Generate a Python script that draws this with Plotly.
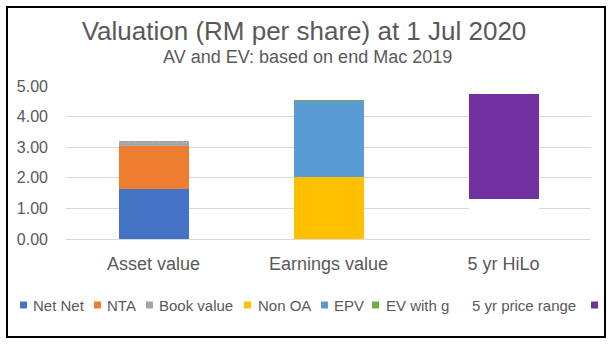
import plotly.graph_objects as go

categories = ["Asset value", "Earnings value", "5 yr HiLo"]

net_net = [1.62, None, None]
nta = [1.42, None, None]
book_value = [0.16, None, None]
non_oa = [None, 2.03, None]
epv = [None, 2.48, None]
ev_with_g = [None, 0.03, None]
price_low = [None, None, 1.31]
price_range = [None, None, 3.43]

y_ticks = [0, 1, 2, 3, 4, 5]

series_names = ["Net Net", "NTA", "Book value", "Non OA", "EPV", "EV with g", "5 yr price range", ""]
series_colors = ["#4472C4", "#ED7D31", "#A5A5A5", "#FFC000", "#5B9BD5", "#70AD47", "#FFFFFF", "#7030A0"]
series_values = [net_net, nta, book_value, non_oa, epv, ev_with_g, price_low, price_range]

W_PX, H_PX = 614, 346
L, R, T, B = 66, 23, 86, 107
PW = W_PX - L - R
PH = H_PX - T - B
BOTTOM = H_PX - B


def px(x):
    return (x - L) / PW


def py(y):
    return (BOTTOM - y) / PH


TXT = "#595959"
FONT = "Liberation Sans, Arial, sans-serif"

fig = go.Figure()
for name, color, vals in zip(series_names, series_colors, series_values):
    marker = dict(color=color, line=dict(width=0))
    if name == "Book value":
        marker["pattern"] = dict(shape=".", fgcolor="#7F7F7F", bgcolor="#B0B0B0", size=3, solidity=0.4)
    fig.add_trace(go.Bar(x=categories, y=vals, name=name, marker=marker, width=0.4,
                         showlegend=False))

fig.update_layout(
    barmode="stack",
    width=W_PX, height=H_PX,
    margin=dict(l=L, r=R, t=T, b=B),
    paper_bgcolor="white", plot_bgcolor="white",
    font=dict(family=FONT, color=TXT),
    title=dict(text="Valuation (RM per share) at 1 Jul 2020", x=304 / W_PX, xanchor="center",
               xref="container", yref="container", y=1 - 31 / H_PX, yanchor="middle",
               font=dict(size=26, color=TXT, family=FONT)),
)
fig.update_yaxes(range=[0, 5], tickvals=y_ticks, tickformat=".2f", showgrid=True,
                 gridcolor="#D9D9D9", gridwidth=1, zeroline=False, showline=False,
                 tickfont=dict(size=16, color=TXT), ticklabelstandoff=17)
fig.update_xaxes(showgrid=False, showline=True, linecolor="#D9D9D9", linewidth=1,
                 zeroline=False, tickfont=dict(size=18, color=TXT), ticklabelstandoff=8)

fig.add_annotation(text="AV and EV: based on end Mac 2019", xref="paper", yref="paper",
                   x=px(307), y=py(57), xanchor="center", yanchor="middle", showarrow=False,
                   font=dict(size=18, color=TXT, family=FONT))

# frame
fig.add_shape(type="rect", xref="paper", yref="paper", x0=px(7), x1=px(605), y0=py(337), y1=py(7),
              line=dict(color="black", width=2), fillcolor="rgba(0,0,0,0)", layer="above")

# manual legend (Excel style)
legend_items = [
    ("Net Net", 20, 31, "#4472C4"),
    ("NTA", 94, 105, "#ED7D31"),
    ("Book value", 146, 157, "#A5A5A5"),
    ("Non OA", 244, 256, "#FFC000"),
    ("EPV", 321, 332, "#5B9BD5"),
    ("EV with g", 372, 384, "#70AD47"),
    ("5 yr price range", None, 470, None),
    ("", 591, None, "#7030A0"),
]
LY = 305
for label, sq_x, tx, col in legend_items:
    if sq_x is not None:
        fig.add_shape(type="rect", xref="paper", yref="paper", x0=px(sq_x), x1=px(sq_x + 7),
                      y0=py(LY + 3.5), y1=py(LY - 3.5), fillcolor=col, line=dict(width=0))
    if label:
        fig.add_annotation(text=label, xref="paper", yref="paper", x=px(tx), y=py(LY),
                           xanchor="left", yanchor="middle", showarrow=False,
                           font=dict(size=15, color=TXT, family=FONT))

fig.write_html("out.html")
